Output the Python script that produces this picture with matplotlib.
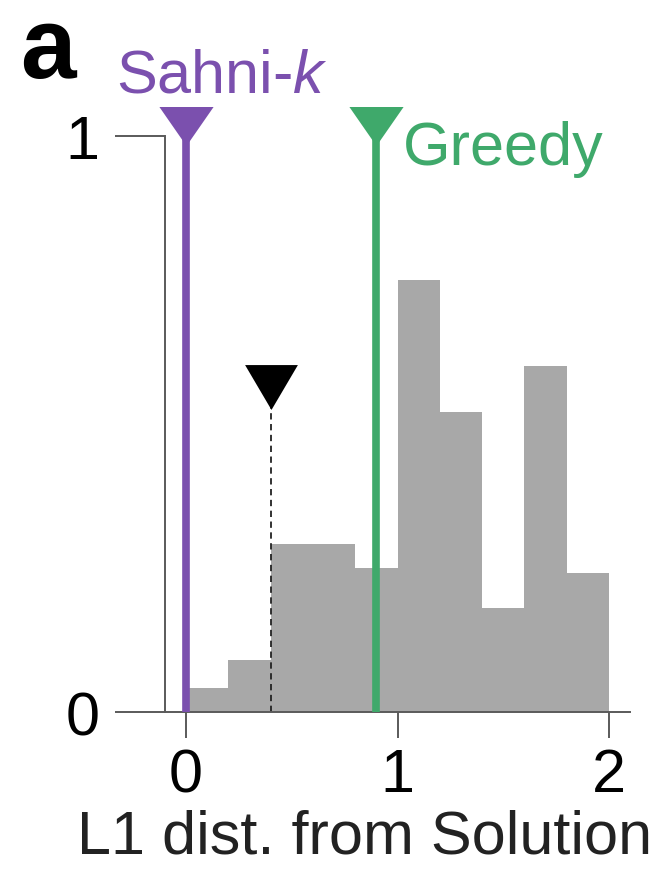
import numpy as np
import matplotlib
matplotlib.use("Agg")
import matplotlib.pyplot as plt

plt.rcParams['font.family'] = ['Liberation Sans', 'DejaVu Sans']
plt.rcParams['mathtext.fontset'] = 'custom'
plt.rcParams['mathtext.rm'] = 'Liberation Sans'
plt.rcParams['mathtext.it'] = 'Liberation Sans:italic'

# histogram of L1 distances (bin edges and normalised heights)
bin_edges = [0.0, 0.2, 0.4, 0.6, 0.8, 1.0, 1.2, 1.4, 1.6, 1.8, 2.0]
bin_heights = [0.042, 0.091, 0.291, 0.291, 0.250, 0.750, 0.521, 0.181, 0.601, 0.242]

# reference solutions marked above the histogram
sahni_x = 0.0
greedy_x = 0.9
median_x = 0.4
marker_top = 1.017
median_marker_y = 0.564

purple = '#7b50ae'
green = '#3fa96b'
bar_gray = '#a8a8a8'
axis_gray = '#5a5a5a'

fig = plt.figure(figsize=(6.66, 8.78), dpi=100)
ax = fig.add_axes([0.2477, 0.1876, 0.9460 - 0.2477, 0.910 - 0.1876])

widths = np.diff(bin_edges)
ax.bar(bin_edges[:-1], bin_heights, width=widths, align='edge',
       color=bar_gray, linewidth=0, zorder=1)

# downward triangle, a bit flatter for the coloured markers
tri_flat = [(-1, 0.72), (1, 0.72), (0, -0.72)]
tri_eq = [(-1, 0.85), (1, 0.85), (0, -0.85)]

ax.plot([median_x, median_x], [0, median_marker_y], color='#222222',
        linestyle=(0, (3.5, 2.5)), linewidth=1.3, zorder=2)
ax.plot([median_x], [median_marker_y], marker=tri_eq, markersize=38,
        color='black', markeredgewidth=0, zorder=4)

for x, col in [(sahni_x, purple), (greedy_x, green)]:
    ax.plot([x, x], [0, marker_top], color=col, linewidth=5.5,
            solid_capstyle='butt', clip_on=False, zorder=3)
    ax.plot([x], [marker_top], marker=tri_flat, markersize=39, color=col,
            markeredgewidth=0, clip_on=False, zorder=4)

ax.text(-0.334, 1.077, 'Sahni-$k$', color=purple, fontsize=44,
        ha='left', va='baseline', clip_on=False)
ax.text(1.025, 0.951, 'Greedy', color=green, fontsize=44,
        ha='left', va='baseline', clip_on=False)
fig.text(20 / 666, 1 - 78 / 878, 'a', fontsize=72, fontweight='bold',
         ha='left', va='baseline')

ax.set_xlim(-0.1, 2.1)
ax.set_ylim(0, 1.1)
ax.spines['top'].set_visible(False)
ax.spines['right'].set_visible(False)
ax.spines['left'].set_bounds(0, 1)
for side in ['left', 'bottom']:
    ax.spines[side].set_color(axis_gray)
    ax.spines[side].set_linewidth(1.4)

ax.set_xticks([0, 1, 2])
ax.set_xticklabels(['0', '1', '2'])
ax.set_yticks([0, 1])
ax.set_yticklabels(['0', '1'])
ax.tick_params(axis='y', direction='out', length=36, width=1.4,
               color=axis_gray, pad=11, labelsize=44)
ax.tick_params(axis='x', direction='out', length=19, width=1.4,
               color=axis_gray, pad=6, labelsize=44)
ax.set_xlabel('L1 dist. from Solution', fontsize=44, color='#222222')
# label is centred under the whole panel rather than the axes
ax.xaxis.set_label_coords(0.430, -0.152)

fig.savefig('out.png', dpi=100)
